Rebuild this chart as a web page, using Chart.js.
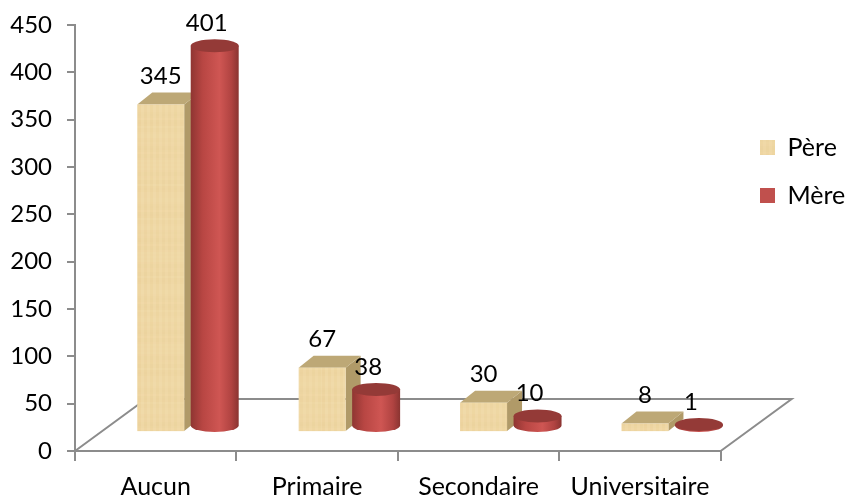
<!DOCTYPE html>
<html>
<head>
<meta charset="utf-8">
<script src="https://cdn.jsdelivr.net/npm/chart.js@4/dist/chart.umd.min.js"></script>
<style>
  html, body { margin: 0; padding: 0; background: #fff; }
  canvas { display: block; }
</style>
</head>
<body>
<canvas id="chart" width="845" height="496"></canvas>
<script>
const categories = ['Aucun', 'Primaire', 'Secondaire', 'Universitaire'];
const pere = [345, 67, 30, 8];
const mere = [401, 38, 10, 1];

// the columns stand on a 3D floor, not on the axis line (values in axis units)
const floorPere = 21;
const floorMere = 27;
const depthX = 15, depthY = 12, floorDepthX = 71, floorDepthY = 52, groupShift = 32, cylRy = 6.5;

// wood-like texture for the Père columns
function makeWood() {
  const c = document.createElement('canvas');
  c.width = 46; c.height = 92;
  const g = c.getContext('2d');
  g.fillStyle = '#f0d8a4';
  g.fillRect(0, 0, 46, 92);
  for (let y = 0; y < 92; y += 2) {
    const a = 0.05 + 0.07 * Math.abs(Math.sin(y * 0.37) * Math.cos(y * 0.11));
    g.fillStyle = 'rgba(200,160,90,' + a + ')';
    g.fillRect(0, y, 46, 2);
  }
  for (let x = 0; x < 46; x += 3) {
    const a = 0.06 + 0.14 * Math.abs(Math.sin(x * 0.53));
    g.fillStyle = 'rgba(255,242,205,' + a + ')';
    g.fillRect(x, 0, 3, 92);
  }
  return c;
}
const woodCanvas = makeWood();
const woodPattern = document.getElementById('chart').getContext('2d').createPattern(woodCanvas, 'repeat');

function drawBox(ctx, el) {
  const left = el.x + groupShift - el.width / 2;
  const right = left + el.width;
  const top = el.y, base = el.base;
  ctx.fillStyle = '#b09a68';
  ctx.beginPath();
  ctx.moveTo(right, top);
  ctx.lineTo(right + depthX, top - depthY);
  ctx.lineTo(right + depthX, base - depthY);
  ctx.lineTo(right, base);
  ctx.closePath();
  ctx.fill();
  ctx.fillStyle = '#bda876';
  ctx.beginPath();
  ctx.moveTo(left, top);
  ctx.lineTo(left + depthX, top - depthY);
  ctx.lineTo(right + depthX, top - depthY);
  ctx.lineTo(right, top);
  ctx.closePath();
  ctx.fill();
  ctx.fillStyle = woodPattern;
  ctx.fillRect(left, top, el.width, base - top);
}

function drawCylinder(ctx, el) {
  const cx = el.x + groupShift;
  const rx = el.width / 2 + 0.5;
  const top = el.y, base = el.base;
  const grad = ctx.createLinearGradient(cx - rx, 0, cx + rx, 0);
  grad.addColorStop(0, '#8f3532');
  grad.addColorStop(0.25, '#b84643');
  grad.addColorStop(0.6, '#cf5653');
  grad.addColorStop(0.85, '#b04341');
  grad.addColorStop(1, '#8a3431');
  ctx.fillStyle = grad;
  ctx.beginPath();
  ctx.moveTo(cx - rx, top);
  ctx.lineTo(cx - rx, base);
  ctx.ellipse(cx, base, rx, cylRy, 0, Math.PI, 0, true);
  ctx.lineTo(cx + rx, top);
  ctx.closePath();
  ctx.fill();
  ctx.fillStyle = '#943a37';
  ctx.beginPath();
  ctx.ellipse(cx, top, rx, cylRy, 0, 0, Math.PI * 2);
  ctx.fill();
}

function drawValueLabels(chart) {
  const ctx = chart.ctx;
  ctx.save();
  ctx.fillStyle = '#000';
  ctx.font = '24px Lato';
  ctx.textAlign = 'center';
  ctx.textBaseline = 'middle';
  chart.getDatasetMeta(0).data.forEach((el, i) => {
    ctx.fillText(pere[i], el.x + groupShift, el.y - depthY - 16);
  });
  chart.getDatasetMeta(1).data.forEach((el, i) => {
    ctx.fillText(mere[i], el.x + groupShift - 8, el.y - cylRy - 16);
  });
  ctx.restore();
}

const columns3d = {
  id: 'columns3d',
  afterLayout(chart) {
    // legend sits beside the upper part of the plot
    chart.legend.left = 761 - 24;
    chart.legend.right = chart.width;
    chart.legend.top = 112;
    chart.legend.bottom = chart.height;
  },
  beforeDatasetsDraw(chart) {
    const ctx = chart.ctx;
    const area = chart.chartArea;

    // floor
    ctx.save();
    ctx.strokeStyle = '#8c8c8c';
    ctx.lineWidth = 2;
    ctx.beginPath();
    ctx.moveTo(area.left, area.bottom);
    ctx.lineTo(area.left + floorDepthX, area.bottom - floorDepthY);
    ctx.lineTo(area.right + floorDepthX, area.bottom - floorDepthY);
    ctx.lineTo(area.right, area.bottom);
    ctx.stroke();
    ctx.restore();

    // columns, Père first so the cylinders sit over the box sides
    ctx.save();
    chart.getDatasetMeta(0).data.forEach(el => drawBox(ctx, el));
    chart.getDatasetMeta(1).data.forEach(el => drawCylinder(ctx, el));
    ctx.restore();
    drawValueLabels(chart);
    return false;
  }
};

Chart.defaults.font.family = 'Lato';
Chart.defaults.font.size = 24;
Chart.defaults.color = '#000';

new Chart(document.getElementById('chart'), {
  type: 'bar',
  data: {
    labels: categories,
    datasets: [
      { label: 'Père', data: pere.map(v => [floorPere, floorPere + v]), backgroundColor: woodPattern },
      { label: 'Mère', data: mere.map(v => [floorMere, floorMere + v]), backgroundColor: '#c0504d' }
    ]
  },
  options: {
    responsive: false,
    animation: false,
    devicePixelRatio: 1,
    categoryPercentage: 0.669,
    barPercentage: 0.87,
    layout: { padding: { top: 25, right: 6, left: 0, bottom: 0 } },
    plugins: {
      tooltip: { enabled: false },
      legend: {
        position: 'right',
        align: 'start',
        labels: { boxWidth: 15, boxHeight: 15, padding: 23, font: { size: 25 } }
      }
    },
    scales: {
      x: {
        afterFit(scale) { scale.height = 45; },
        grid: { drawOnChartArea: false, color: '#8c8c8c', lineWidth: 2, tickLength: 10 },
        border: { color: '#8c8c8c', width: 2 },
        ticks: { padding: 11, maxRotation: 0, autoSkip: false, font: { size: 25 } }
      },
      y: {
        min: 0,
        max: 450,
        afterFit(scale) {
          scale.width = 75;
          scale.paddingTop = 0;
        },
        grid: { drawOnChartArea: false, color: '#8c8c8c', lineWidth: 2, tickLength: 8 },
        border: { color: '#8c8c8c', width: 2 },
        ticks: { stepSize: 50, padding: 15 }
      }
    }
  },
  plugins: [columns3d]
});
</script>
</body>
</html>
